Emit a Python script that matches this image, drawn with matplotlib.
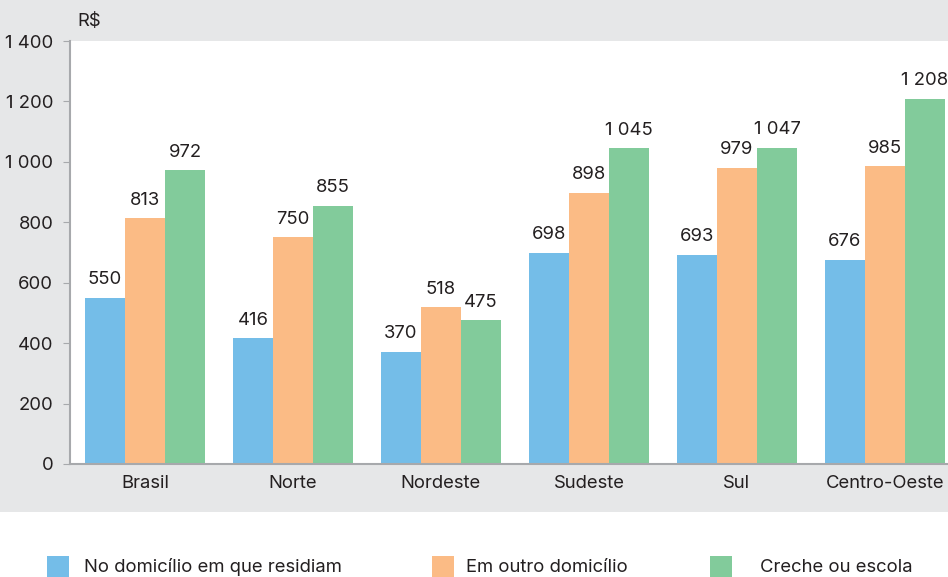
import matplotlib
matplotlib.use("Agg")
import matplotlib.pyplot as plt
from matplotlib.patches import Rectangle
import numpy as np

categories = ["Brasil", "Norte", "Nordeste", "Sudeste", "Sul", "Centro-Oeste"]
series_names = ["No domicílio em que residiam", "Em outro domicílio", "Creche ou escola"]
no_domicilio = [550, 416, 370, 698, 693, 676]
outro_domicilio = [813, 750, 518, 898, 979, 985]
creche_escola = [972, 855, 475, 1045, 1047, 1208]
yticks = [0, 200, 400, 600, 800, 1000, 1200, 1400]
ytick_labels = ["0", "200", "400", "600", "800", "1 000", "1 200", "1 400"]
unit_label = "R$"

colors = ["#74bde8", "#fbbb85", "#82cb9b"]
bg = "#e6e7e8"
txt = "#231f20"
axis_col = "#a7a9ac"

plt.rcParams["font.family"] = ["Inter", "DejaVu Sans"]
FS = 13.3

W, H = 948, 577
fig = plt.figure(figsize=(W / 100, H / 100), dpi=100)
fig.patch.set_facecolor("white")
fig.patches.append(Rectangle((0, (H - 512) / H), 1, 512 / H, transform=fig.transFigure,
                             facecolor=bg, edgecolor="none", zorder=-10))

ax = fig.add_axes([70 / W, (H - 464) / H, 1 - 70 / W, (464 - 41) / H])
ax.set_facecolor("white")

x = np.arange(len(categories))
w = 40 / 148
all_series = [no_domicilio, outro_domicilio, creche_escola]
for i, (vals, c) in enumerate(zip(all_series, colors)):
    bars = ax.bar(x + (i - 1) * w, vals, width=w, color=c, edgecolor="none", zorder=2)
    for b, v in zip(bars, vals):
        lab = f"{v:,}".replace(",", " ")
        ax.annotate(lab, (b.get_x() + b.get_width() / 2, v), xytext=(0, 7),
                    textcoords="offset points", ha="center", va="bottom",
                    fontsize=FS, color=txt, annotation_clip=False)

ax.set_xlim(-75 / 148, (W - 145) / 148)
ax.set_ylim(0, 1400)
ax.set_yticks(yticks)
ax.set_yticklabels(ytick_labels)
ax.set_xticks(x)
ax.set_xticklabels(categories)
ax.tick_params(axis="y", length=5, color=axis_col, labelsize=FS, labelcolor=txt, pad=7)
ax.tick_params(axis="x", length=0, labelsize=FS, labelcolor=txt, pad=8)
for s in ["top", "right"]:
    ax.spines[s].set_visible(False)
for s in ["left", "bottom"]:
    ax.spines[s].set_color(axis_col)
    ax.spines[s].set_linewidth(1.5)

fig.text(77 / W, 1 - 22 / H, unit_label, fontsize=FS, color=txt, ha="left", va="center")

# legend
sq_x = [47, 432, 710]
txt_x = [84, 466, 760]
sq_top, sq_bot = 556, 577
for name, c, sx, tx in zip(series_names, colors, sq_x, txt_x):
    fig.patches.append(Rectangle((sx / W, (H - sq_bot) / H), 22 / W, (sq_bot - sq_top) / H,
                                 transform=fig.transFigure, facecolor=c, edgecolor="none"))
    fig.text(tx / W, (H - 567) / H, name, fontsize=FS, color=txt, ha="left", va="center")

fig.savefig("out.png", dpi=100)
